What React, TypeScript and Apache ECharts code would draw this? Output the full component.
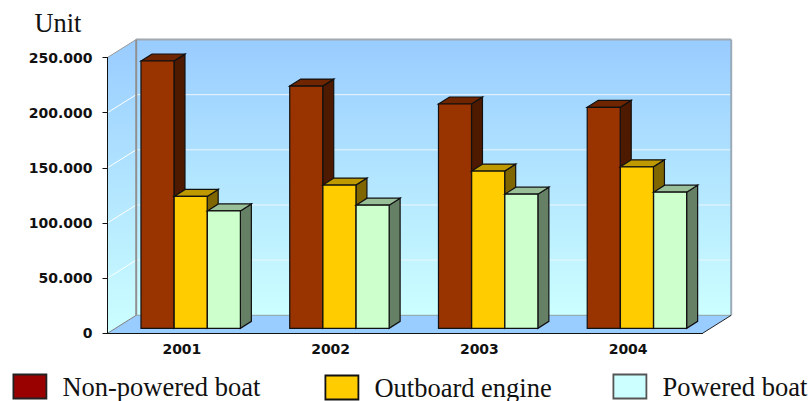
import React, { useEffect, useRef } from "react";
import * as echarts from "echarts";

const years = ["2001", "2002", "2003", "2004"];
const nonPowered = [242300, 219600, 203300, 200300];
const outboard = [119500, 129800, 142500, 146400];
const powered = [106400, 111600, 121600, 123400];
const seriesNames = ["Non-powered boat", "Outboard engine", "Powered boat"];
const frontColors = ["#993300", "#FFCC00", "#CCFFCC"];
const topColors = ["#6E2500", "#BF9900", "#99BF99"];
const sideColors = ["#4D1A00", "#806600", "#668066"];
const legendColors = ["#990000", "#FFCC00", "#CCFFFF"];

// Box and room geometry, in pixels
const ROOM_DX = 28.7;
const ROOM_DY = -18;
const BOX_WIDTH = 33;
const BOX_STEP = 33.2;
const BOX_DX = 11;
const BOX_DY = -7;
const FLOOR_INSET = 5;
const GROUP_OFFSET = -40.9;

function poly(points: number[][], fill: any, stroke: any, lineWidth: number) {
  return { type: "polygon", shape: { points }, style: { fill, stroke, lineWidth } };
}

function seg(x1: number, y1: number, x2: number, y2: number, stroke: string, lineWidth: number) {
  return { type: "line", shape: { x1, y1, x2, y2 }, style: { stroke, lineWidth } };
}

// Side wall, back wall, floor and their gridlines
function renderRoom(params: any, api: any) {
  const { x, y, width, height } = params.coordSys;
  const gradient = () =>
    new echarts.graphic.LinearGradient(0, 0, 0, 1, [
      { offset: 0, color: "#99CCFF" },
      { offset: 1, color: "#CCFFFF" },
    ]);
  const bx = x + ROOM_DX;
  const by = y + ROOM_DY;
  const bottom = y + height;
  const children: any[] = [
    poly([[x, y], [bx, by], [bx, bottom + ROOM_DY], [x, bottom]], gradient(), "none", 0),
    poly([[bx, by], [bx + width, by], [bx + width, bottom + ROOM_DY], [bx, bottom + ROOM_DY]], gradient(), "none", 0),
    poly(
      [[x, bottom], [x + width, bottom], [x + width + ROOM_DX, bottom + ROOM_DY], [bx, bottom + ROOM_DY]],
      "#99CCFF",
      "none",
      0
    ),
  ];
  [50000, 100000, 150000, 200000].forEach((v) => {
    const py = api.coord([0, v])[1];
    children.push(seg(x, py, bx, py + ROOM_DY, "#FFFFFF", 1));
    children.push(seg(bx, py + ROOM_DY, bx + width, py + ROOM_DY, "#EAF6FF", 1));
  });
  children.push(
    seg(x, y, bx, by, "#999999", 1),
    seg(bx, by, bx + width, by, "#A0A8B0", 2),
    seg(bx, by, bx, bottom + ROOM_DY, "#909090", 2),
    seg(bx + width, by, bx + width, bottom + ROOM_DY, "#9AAAB8", 2),
    seg(bx, bottom + ROOM_DY, bx + width, bottom + ROOM_DY, "#8FA0A8", 1),
    seg(x, bottom, bx, bottom + ROOM_DY, "#808080", 1),
    seg(x + width, bottom, x + width + ROOM_DX, bottom + ROOM_DY, "#222222", 1)
  );
  return { type: "group", children };
}

// One extruded column; slot is its position inside the year's cluster
function renderBox(slot: number) {
  return (_params: any, api: any) => {
    const cx = api.coord([api.value(0), 0])[0];
    const zeroY = api.coord([api.value(0), 0])[1] - FLOOR_INSET;
    const topY = api.coord([api.value(0), api.value(1)])[1] - FLOOR_INSET;
    const x0 = cx + GROUP_OFFSET + slot * BOX_STEP;
    const x1 = x0 + BOX_WIDTH;
    const line = "#111111";
    return {
      type: "group",
      children: [
        poly([[x1, topY], [x1 + BOX_DX, topY + BOX_DY], [x1 + BOX_DX, zeroY + BOX_DY], [x1, zeroY]], sideColors[slot], line, 1.2),
        poly([[x0, topY], [x0 + BOX_DX, topY + BOX_DY], [x1 + BOX_DX, topY + BOX_DY], [x1, topY]], topColors[slot], line, 1.2),
        poly([[x0, topY], [x1, topY], [x1, zeroY], [x0, zeroY]], frontColors[slot], line, 1.2),
      ],
    };
  };
}

function legendEntry(i: number, left: number, top: number, border: string, textTop: number) {
  return {
    left,
    top,
    selectedMode: false,
    icon: "rect",
    itemWidth: 33,
    itemHeight: 24,
    padding: 0,
    data: [
      {
        name: seriesNames[i],
        itemStyle: { color: legendColors[i], borderColor: border, borderWidth: 1.8 },
      },
    ],
    textStyle: {
      fontFamily: "Liberation Serif",
      fontSize: 26.5,
      color: "#111111",
      padding: [textTop, 0, 0, 11],
    },
  };
}

export default function App() {
  const ref = useRef<HTMLDivElement>(null);
  useEffect(() => {
    const chart = echarts.init(ref.current!, undefined, { renderer: "svg" });
    const axisFont = { fontFamily: "DejaVu Sans", fontWeight: "bold" as const, fontSize: 14, color: "#111111" };
    const values = [nonPowered, outboard, powered];
    chart.setOption({
      animation: false,
      backgroundColor: "#FFFFFF",
      title: {
        text: "Unit",
        left: 34.5,
        top: 10,
        padding: 0,
        textStyle: { fontFamily: "Liberation Serif", fontWeight: "normal", fontSize: 26.4, color: "#111111" },
      },
      legend: [
        legendEntry(0, 12.5, 373, "#222222", 3),
        legendEntry(1, 324.5, 374, "#111111", 0),
        legendEntry(2, 612.5, 373, "#555555", 0),
      ],
      grid: { left: 107.5, right: 108.5, top: 57.5, bottom: 67.7 },
      xAxis: {
        type: "category",
        data: years,
        z: 10,
        axisLine: { lineStyle: { color: "#111111", width: 1 } },
        axisTick: { length: 5, lineStyle: { color: "#111111" } },
        axisLabel: { ...axisFont, margin: 9 },
      },
      yAxis: {
        type: "value",
        min: 0,
        max: 250000,
        interval: 50000,
        z: 10,
        splitLine: { show: false },
        axisLine: { show: true, lineStyle: { color: "#111111", width: 1 } },
        axisTick: { show: true, length: 5, lineStyle: { color: "#111111" } },
        axisLabel: {
          ...axisFont,
          margin: 15,
          formatter: (v: number) => (v === 0 ? "0" : `${v / 1000}.000`),
        },
      },
      series: [
        {
          type: "custom",
          name: "room",
          renderItem: renderRoom,
          data: [[0, 0]],
          silent: true,
          z: 1,
        },
        ...seriesNames.map((name, i) => ({
          type: "custom",
          name,
          renderItem: renderBox(i),
          encode: { x: 0, y: 1 },
          itemStyle: { color: legendColors[i] },
          data: years.map((_, k) => [k, values[i][k]]),
          z: 2 + i,
        })),
      ],
    });
    return () => chart.dispose();
  }, []);
  return <div ref={ref} style={{ position: "fixed", left: 0, top: 0, width: 811, height: 401 }} />;
}
